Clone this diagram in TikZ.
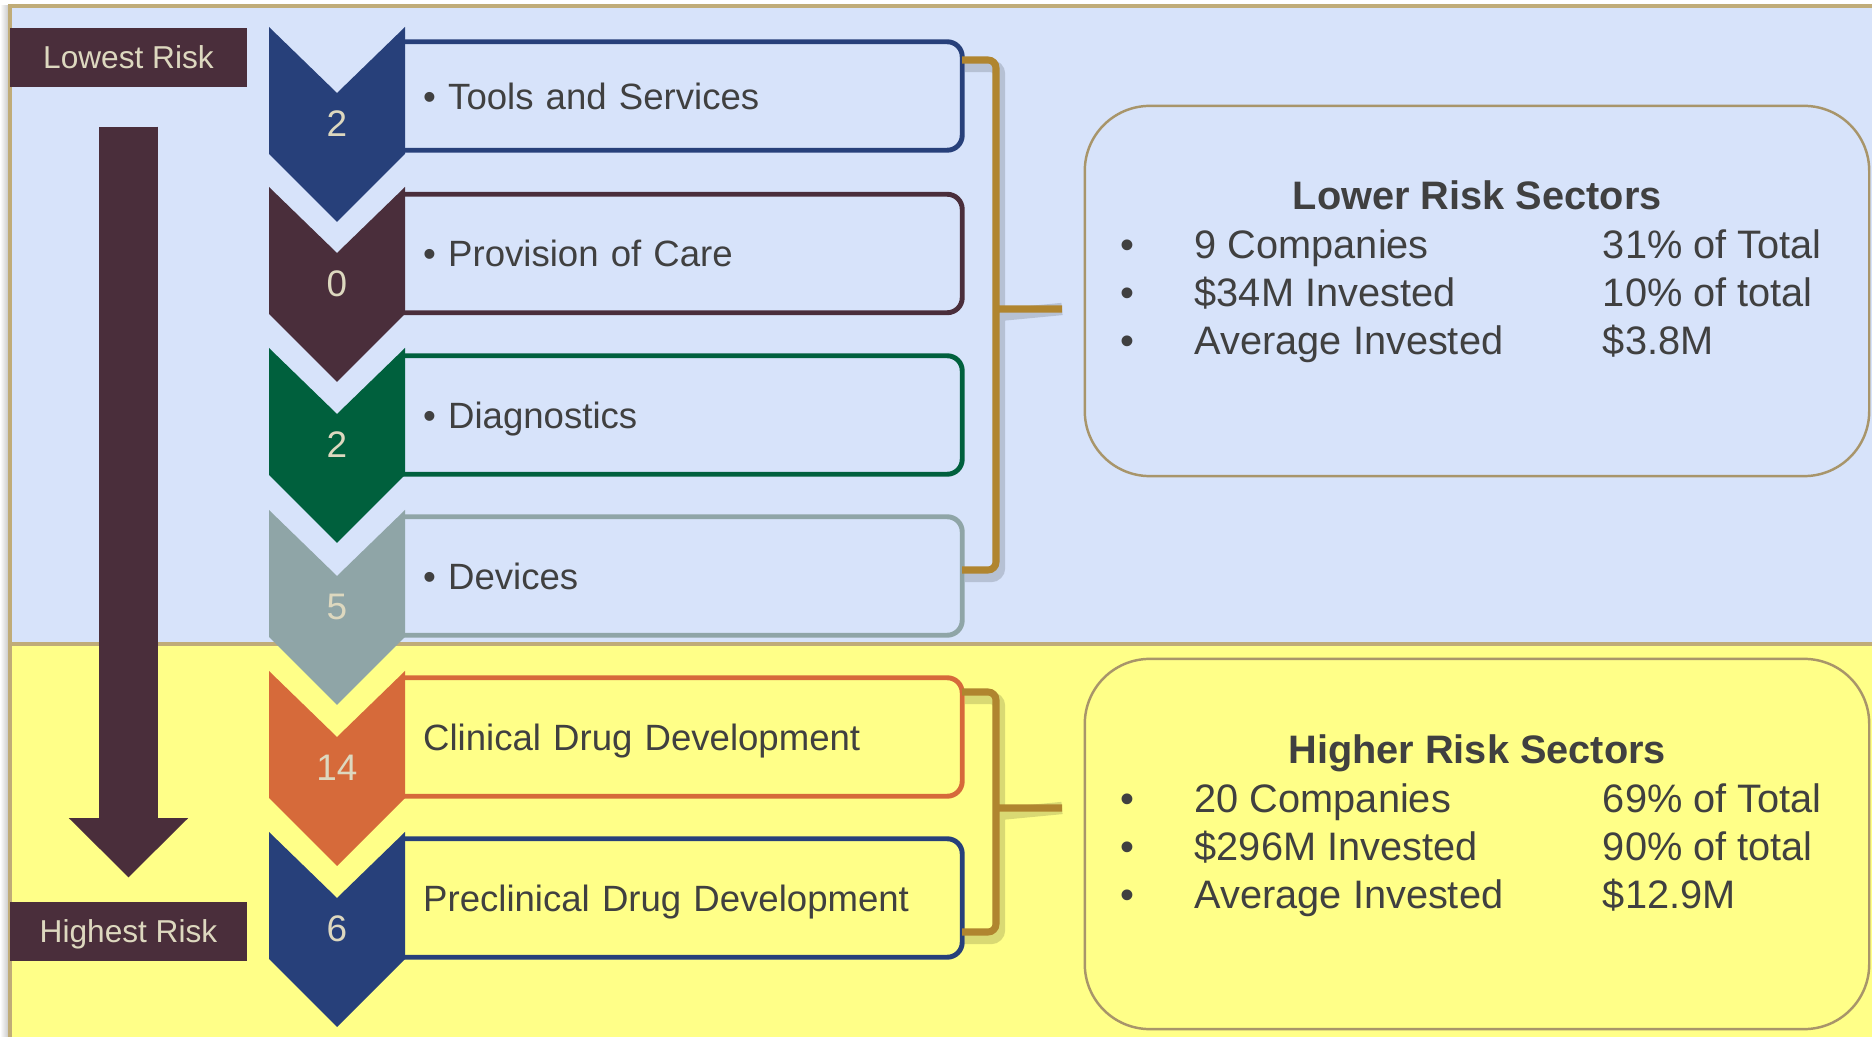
\documentclass[tikz,border=0pt]{standalone}
\usepackage{fontspec}
\setmainfont{Liberation Sans}
\usetikzlibrary{arrows.meta}

\definecolor{bgblue}{HTML}{D7E3FA}
\definecolor{bgyellow}{HTML}{FFFF88}
\definecolor{frametan}{HTML}{C0AC78}
\definecolor{plum}{HTML}{4A2E3B}
\definecolor{navy}{HTML}{27407A}
\definecolor{deepgreen}{HTML}{00603D}
\definecolor{slate}{HTML}{8FA5A7}
\definecolor{rust}{HTML}{D66A3A}
\definecolor{cream}{HTML}{DDD8BF}
\definecolor{ink}{HTML}{404040}
\definecolor{gold}{HTML}{B0852F}
\definecolor{boxtan}{HTML}{A8956A}

\begin{document}
\begin{tikzpicture}[x=0.01cm, y=-0.01cm,
  sector/.style={anchor=west, minimum width=5.575cm, minimum height=1.17cm, text width=5.185cm,
    inner xsep=0.195cm, inner ysep=0pt, align=left, text=ink,
    font=\fontsize{10.4pt}{12pt}\selectfont, text height=8pt, text depth=0.5pt},
  rim/.style={draw=#1, line width=1.4pt, rounded corners=0.15cm},
  num/.style={text=cream, inner sep=0pt, font=\fontsize{10.5pt}{12pt}\selectfont,
    text height=8pt, text depth=0.5pt},
  risk/.style={fill=plum, text=cream, minimum width=2.37cm, minimum height=0.59cm,
    inner sep=0pt, font=\fontsize{9pt}{11pt}\selectfont, text height=6.8pt, text depth=0.4pt},
  bigarrow/.style={draw=plum, line width=0.59cm, shorten <=0.39cm, shorten >=0.24cm,
    -{Triangle[width=1.19cm, length=0.59cm, line width=0pt]}},
  infobox/.style={draw=boxtan, line width=0.7pt, rounded corners=0.65cm,
    minimum width=7.84cm, minimum height=3.7cm},
  infotext/.style={anchor=base west, inner sep=0pt, text=ink,
    font=\fontsize{11.3pt}{13.66pt}\selectfont},
  brace/.style={draw=gold, line width=2pt, rounded corners=0.08cm},
  braceshadow/.style={draw=black, opacity=0.15, line width=3.5pt, rounded corners=0.08cm,
    xshift=0.03cm, yshift=-0.06cm},
]
  \useasboundingbox (0,0) rectangle (1872,1037);

  % ================= 背景：上半蓝色、下半黄色 =================
  \fill[white] (0,0) rectangle (1872,1037);
  \shade[left color=white, right color=gray!45] (0,6) rectangle (9,1037);
  \fill[bgblue] (10,6) rectangle (1872,644);
  \fill[bgyellow] (10,644) rectangle (1872,1037);
  \draw[frametan, line width=1pt] (1872,6) -- (10,6) -- (10,1037);
  \draw[frametan, line width=1pt] (10,644) -- (1872,644);

  % ================= 左侧：风险方向 =================
  \node[risk] (lowest) at (128.5,57.5) {Lowest Risk};
  \node[risk] (highest) at (128.5,931.5) {Highest Risk};
  \draw[bigarrow] (lowest) -- (highest);

  % ================= 中间：各领域方框 =================
  \node[sector, minimum height=1.07cm] (tools) at (403,96) {• Tools and Services};
  \node[sector] (care) at (403,253.5) {• Provision of Care};
  \node[sector] (diag) at (403,415) {• Diagnostics};
  \node[sector] (devices) at (403,576) {• Devices};
  \node[sector] (clinical) at (403,737) {Clinical Drug Development};
  \node[sector] (preclin) at (403,898) {Preclinical Drug Development};

  % 方框轮廓 (左端开口，藏在色块下面)
  \draw[rim=navy] (tools.north west) -- (tools.north east) -- (tools.south east) -- (tools.south west);
  \draw[rim=plum] (care.north west) -- (care.north east) -- (care.south east) -- (care.south west);
  \draw[rim=deepgreen] (diag.north west) -- (diag.north east) -- (diag.south east) -- (diag.south west);
  \draw[rim=slate] (devices.north west) -- (devices.north east) -- (devices.south east) -- (devices.south west);
  \draw[rim=rust] (clinical.north west) -- (clinical.north east) -- (clinical.south east) -- (clinical.south west);
  \draw[rim=navy] (preclin.north west) -- (preclin.north east) -- (preclin.south east) -- (preclin.south west);

  % 1. 箭头形色块
  \fill[navy] (269,27) -- ++(68,66) -- ++(68,-66) -- ++(0,127) -- ++(-68,68) -- ++(-68,-68) -- cycle;
  \fill[plum] (269,187) -- ++(68,66) -- ++(68,-66) -- ++(0,127) -- ++(-68,68) -- ++(-68,-68) -- cycle;
  \fill[deepgreen] (269,348) -- ++(68,66) -- ++(68,-66) -- ++(0,127) -- ++(-68,68) -- ++(-68,-68) -- cycle;
  \fill[slate] (269,510) -- ++(68,66) -- ++(68,-66) -- ++(0,127) -- ++(-68,68) -- ++(-68,-68) -- cycle;
  \fill[rust] (269,671) -- ++(68,66) -- ++(68,-66) -- ++(0,127) -- ++(-68,68) -- ++(-68,-68) -- cycle;
  \fill[navy] (269,832) -- ++(68,66) -- ++(68,-66) -- ++(0,127) -- ++(-68,68) -- ++(-68,-68) -- cycle;

  % 2. 公司数量
  \node[num] (n1) at (337,123) {2};
  \node[num] (n2) at (337,283) {0};
  \node[num] (n3) at (337,444) {2};
  \node[num] (n4) at (337,606) {5};
  \node[num] (n5) at (337,767) {14};
  \node[num] (n6) at (337,928) {6};

  % ================= 括号 =================
  \coordinate (lowtip) at (1062,309);
  \coordinate (hightip) at (1062,808);
  \draw[braceshadow] (962,60) -| (996,309) |- (962,570) (996,309) -- (lowtip);
  \draw[brace] (962,60) -| (996,309) |- (962,570) (996,309) -- (lowtip);
  \draw[braceshadow] (962,692) -| (996,808) |- (962,932) (996,808) -- (hightip);
  \draw[brace] (962,692) -| (996,808) |- (962,932) (996,808) -- (hightip);

  % ================= 右侧：汇总 =================
  \node[infobox] (lowinfo) at (1477,291) {};
  \node[infobox] (highinfo) at (1477,844) {};

  \node[infotext] (lowtext) at (1120,210) {\begin{tabular}[t]{@{}p{0.74cm}@{}p{4.08cm}@{}l@{}}
    \multicolumn{3}{c}{\hspace*{0.12cm}\bfseries Lower Risk Sectors}\\
    • & 9 Companies & 31\% of Total\\
    • & \$34M Invested & 10\% of total\\
    • & Average Invested & \$3.8M
  \end{tabular}};
  \node[infotext] (hightext) at (1120,764) {\begin{tabular}[t]{@{}p{0.74cm}@{}p{4.08cm}@{}l@{}}
    \multicolumn{3}{c}{\hspace*{0.12cm}\bfseries Higher Risk Sectors}\\
    • & 20 Companies & 69\% of Total\\
    • & \$296M Invested & 90\% of total\\
    • & Average Invested & \$12.9M
  \end{tabular}};
\end{tikzpicture}
\end{document}
